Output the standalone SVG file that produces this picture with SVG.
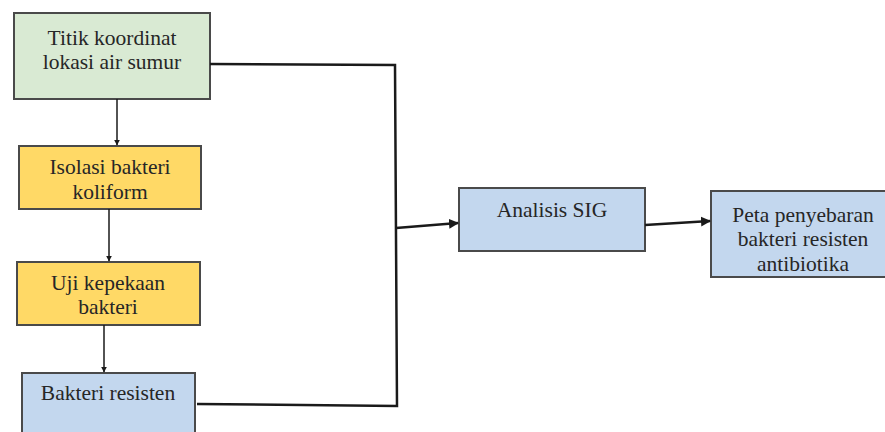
<svg xmlns="http://www.w3.org/2000/svg" width="885" height="432" viewBox="0 0 885 432">
<defs>
<style>
.box{stroke:#4a4a4a;stroke-width:2}
.g{fill:#d9ead3}.y{fill:#ffd966}.b{fill:#c3d7ee}
text{font-family:'Liberation Serif','DejaVu Serif',serif;font-size:21.5px;fill:#262626;text-anchor:middle}
.c{fill:none;stroke:#1a1a1a}
</style>
<marker id="ah" viewBox="0 0 10 10" refX="9" refY="5" markerWidth="4" markerHeight="4" orient="auto"><path d="M0,0 L10,5 L0,10 z" fill="#1a1a1a"/></marker>
</defs>
<rect width="885" height="432" fill="#ffffff"/>
<g id="n1"><rect class="box g" x="14" y="13" width="196" height="86"/><text x="112" y="45">Titik koordinat</text><text x="112" y="69">lokasi air sumur</text></g>
<g id="n2"><rect class="box y" x="19" y="146" width="182" height="63"/><text x="110" y="174">Isolasi bakteri</text><text x="110" y="199">koliform</text></g>
<g id="n3"><rect class="box y" x="17" y="262" width="183" height="63"/><text x="108" y="290">Uji kepekaan</text><text x="108" y="314">bakteri</text></g>
<g id="n4"><rect class="box b" x="22" y="373" width="173" height="70"/><text x="108" y="400">Bakteri resisten</text></g>
<g id="n5"><rect class="box b" x="459" y="188" width="186" height="63"/><text x="552" y="217">Analisis SIG</text></g>
<g id="n6"><rect class="box b" x="711" y="191" width="180" height="86"/><text x="803" y="222">Peta penyebaran</text><text x="803" y="246">bakteri resisten</text><text x="803" y="271">antibiotika</text></g>
<g id="connectors">
<path class="c" stroke-width="2.5" d="M210,64 L395,65 L397,406 L197,404"/>
<path class="c" stroke-width="2.5" d="M396,228 L458,223" marker-end="url(#ah)"/>
<path class="c" stroke-width="2.5" d="M645,225 L710,221" marker-end="url(#ah)"/>
<path class="c" stroke-width="1.5" d="M117,99 L117,145" marker-end="url(#ah)"/>
<path class="c" stroke-width="1.5" d="M109,209 L109,261" marker-end="url(#ah)"/>
<path class="c" stroke-width="1.5" d="M104,325 L104,372" marker-end="url(#ah)"/>
</g>
</svg>
